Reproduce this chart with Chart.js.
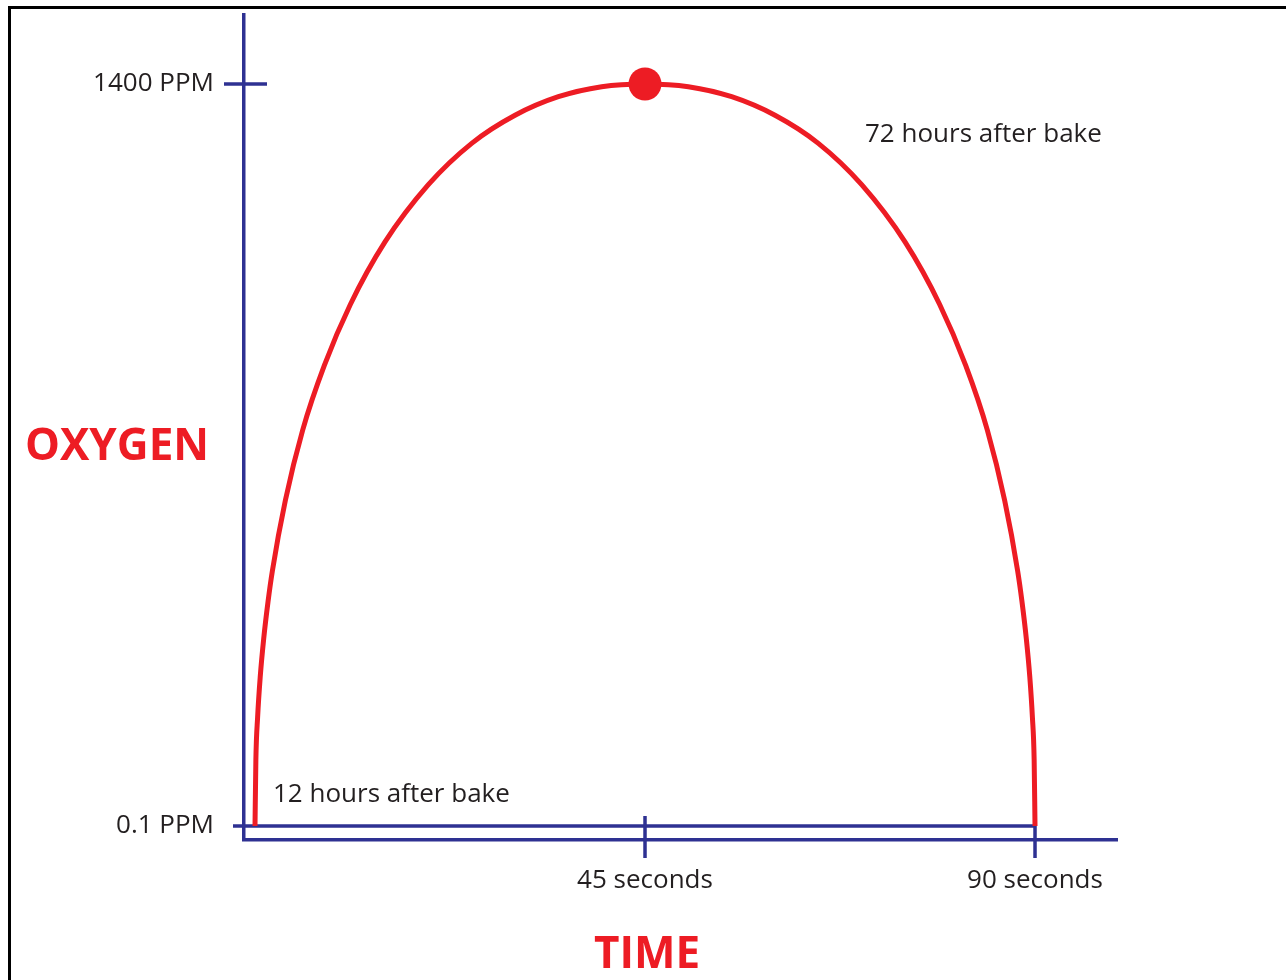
<!DOCTYPE html>
<html>
<head>
<meta charset="utf-8">
<script src="https://cdn.jsdelivr.net/npm/chart.js@4.4.1/dist/chart.umd.min.js"></script>
<style>
  html, body { margin: 0; padding: 0; background: #ffffff; }
  #wrap { width: 1286px; height: 980px; position: relative; }
</style>
</head>
<body>
<div id="wrap"><canvas id="c" width="1286" height="980"></canvas></div>
<script>
// ---- Data ----
const timeSeconds = [0, 0.1, 0.3, 0.6, 1, 1.5, 2, 3.5, 5.5, 8, 11, 15, 20, 25, 30, 35, 40, 45,
                     50, 55, 60, 65, 70, 75, 79, 82, 84.5, 86.5, 88, 88.5, 89, 89.4, 89.7, 89.9, 90];
const oxygenPPM   = [0.1, 125, 205, 281, 353, 423, 481, 614, 747, 869, 984, 1102, 1210, 1288, 1341, 1376, 1395, 1400,
                     1395, 1376, 1341, 1288, 1210, 1102, 984, 869, 747, 614, 481, 423, 353, 281, 205, 125, 0.1];
const peakTime = [45];
const peakPPM = [1400];
const xTickValues = [45, 90];
const xTickLabels = ['45 seconds', '90 seconds'];
const yTickValues = [0.1, 1400];
const yTickLabels = ['0.1 PPM', '1400 PPM'];
const xTitle = 'TIME';
const yTitle = 'OXYGEN';
const noteStart = '12 hours after bake';
const notePeak = '72 hours after bake';

// ---- Styles ----
const RED = '#ed1c24';
const NAVY = '#2e3192';
const TEXT = '#231f20';
const FONT = "'Open Sans', 'Noto Sans', sans-serif";

const extras = {
  id: 'extras',
  beforeDatasetsDraw(chart) {
    const { ctx, scales: { x, y } } = chart;
    ctx.save();
    ctx.strokeStyle = NAVY;
    ctx.lineWidth = 3.5;
    ctx.lineCap = 'butt';
    const yBase = y.getPixelForValue(yTickValues[0]);
    const yTop = y.getPixelForValue(yTickValues[1]);
    // baseline (0.1 PPM tick) running to the 90 s mark
    ctx.beginPath();
    ctx.moveTo(x.left - 11, yBase);
    ctx.lineTo(x.getPixelForValue(xTickValues[1]), yBase);
    ctx.stroke();
    // 1400 PPM tick crossing the axis
    ctx.beginPath();
    ctx.moveTo(x.left - 20, yTop);
    ctx.lineTo(x.left + 23, yTop);
    ctx.stroke();
    // x ticks
    const x45 = x.getPixelForValue(xTickValues[0]);
    const x90 = x.getPixelForValue(xTickValues[1]);
    ctx.beginPath();
    ctx.moveTo(x45, yBase - 10);
    ctx.lineTo(x45, x.top + 18);
    ctx.moveTo(x90, yBase);
    ctx.lineTo(x90, x.top + 18);
    ctx.stroke();
    ctx.restore();
  },
  afterDraw(chart) {
    const { ctx } = chart;
    ctx.save();
    // frame
    ctx.strokeStyle = '#000000';
    ctx.lineWidth = 3;
    ctx.strokeRect(9.5, 7.5, 2000, 2000);
    // titles
    ctx.fillStyle = RED;
    ctx.font = 'bold 44px ' + FONT;
    ctx.textBaseline = 'middle';
    ctx.textAlign = 'center';
    ctx.fillText(yTitle, 117, 447);
    ctx.fillText(xTitle, 647, 955);
    // notes
    ctx.fillStyle = TEXT;
    ctx.font = '26px ' + FONT;
    ctx.textAlign = 'left';
    ctx.fillText(noteStart, 273, 795);
    ctx.fillText(notePeak, 865, 135);
    ctx.restore();
  }
};

new Chart(document.getElementById('c'), {
  type: 'scatter',
  data: {
    datasets: [
      {
        data: timeSeconds.map((t, i) => ({ x: t, y: oxygenPPM[i] })),
        showLine: true,
        borderColor: RED,
        borderWidth: 5,
        pointRadius: 0,
        cubicInterpolationMode: 'monotone',
        fill: false,
        order: 2
      },
      {
        data: peakTime.map((t, i) => ({ x: t, y: peakPPM[i] })),
        showLine: false,
        pointRadius: 16.5,
        pointBackgroundColor: RED,
        pointBorderWidth: 0,
        order: 1
      }
    ]
  },
  options: {
    responsive: false,
    animation: false,
    events: [],
    layout: { autoPadding: false, padding: { top: 15, right: 169, left: 0, bottom: 0 } },
    plugins: { legend: { display: false }, tooltip: { enabled: false } },
    scales: {
      x: {
        type: 'linear',
        min: -1.27,
        max: 99.46,
        afterFit(s) { s.height = 140; s.paddingLeft = 0; s.paddingRight = 0; },
        afterBuildTicks(s) { s.ticks = xTickValues.map(v => ({ value: v })); },
        grid: { display: false, drawTicks: false },
        border: { display: true, color: NAVY, width: 3.5 },
        ticks: {
          autoSkip: false,
          maxRotation: 0,
          padding: 25,
          color: TEXT,
          font: { family: FONT, size: 26 },
          callback: (v) => xTickLabels[xTickValues.indexOf(v)]
        }
      },
      y: {
        type: 'linear',
        min: -26.4,
        max: 1530.2,
        afterFit(s) { s.width = 244; s.paddingTop = 0; s.paddingBottom = 0; },
        afterBuildTicks(s) { s.ticks = yTickValues.map(v => ({ value: v })); },
        grid: { display: false, drawTicks: false },
        border: { display: true, color: NAVY, width: 3.5 },
        ticks: {
          autoSkip: false,
          padding: 30,
          color: TEXT,
          font: { family: FONT, size: 26 },
          callback: (v) => yTickLabels[yTickValues.indexOf(v)]
        }
      }
    }
  },
  plugins: [extras]
});
</script>
</body>
</html>
